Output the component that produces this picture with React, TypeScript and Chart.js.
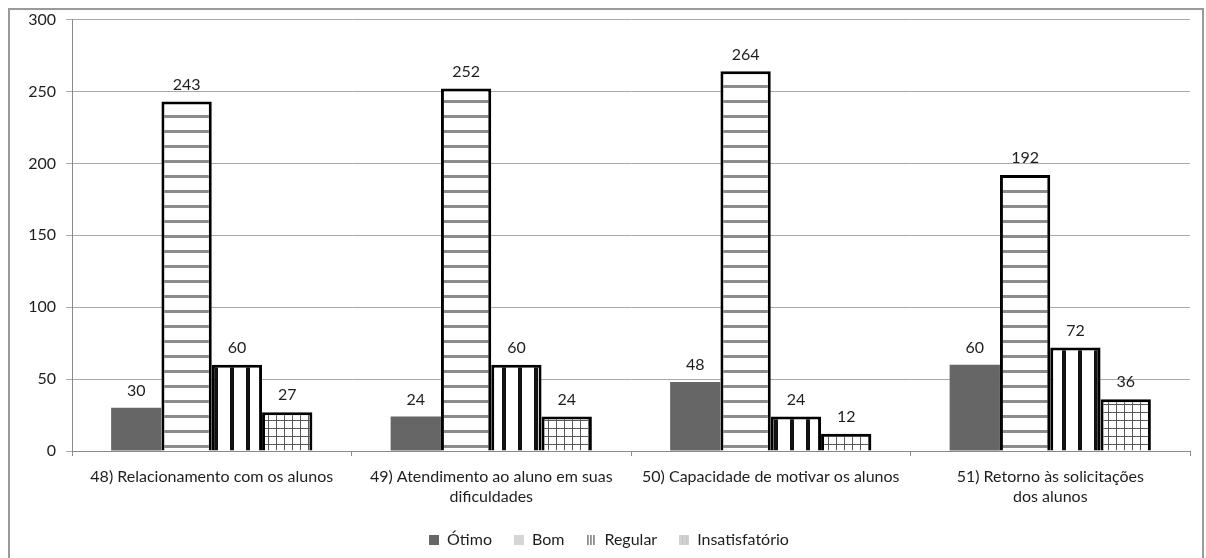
import React, { useEffect, useRef } from "react";
import { Chart, registerables } from "chart.js";

Chart.register(...registerables);

// Survey categories (multi-line where the label wraps)
const categories: (string | string[])[] = [
  "48) Relacionamento com os alunos",
  ["49) Atendimento ao aluno em suas", "dificuldades"],
  "50) Capacidade de motivar os alunos",
  ["51) Retorno às solicitações", "dos alunos"],
];

const seriesNames = ["Ótimo", "Bom", "Regular", "Insatisfatório"];
const otimo = [30, 24, 48, 60];
const bom = [243, 252, 264, 192];
const regular = [60, 60, 24, 72];
const insatisfatorio = [27, 24, 12, 36];

const yMin = 0;
const yMax = 300;
const yStep = 50;

const FONT = "Lato";
const FONT_SIZE = 16;
const TEXT = "#1e1e1e";

function tile(w: number, h: number, paint: (g: CanvasRenderingContext2D) => void) {
  const c = document.createElement("canvas");
  c.width = w;
  c.height = h;
  const g = c.getContext("2d") as CanvasRenderingContext2D;
  paint(g);
  return c;
}

// Horizontal gray stripes
const bomTile = () =>
  tile(8, 15, (g) => {
    g.fillStyle = "#ffffff";
    g.fillRect(0, 0, 8, 15);
    g.fillStyle = "#8c8c8c";
    g.fillRect(0, 10, 8, 3);
  });

// Thick vertical black stripes
const regularTile = () =>
  tile(16, 8, (g) => {
    g.fillStyle = "#ffffff";
    g.fillRect(0, 0, 16, 8);
    g.fillStyle = "#111111";
    g.fillRect(6, 0, 4, 8);
  });

// Fine grid
const insatTile = () =>
  tile(8, 8, (g) => {
    g.fillStyle = "#ffffff";
    g.fillRect(0, 0, 8, 8);
    g.fillStyle = "#5a5a5a";
    g.fillRect(4, 0, 1, 8);
    g.fillRect(0, 4, 8, 1);
  });

// Small legend swatches
const legendIcons = () => [
  tile(10, 10, (g) => {
    g.fillStyle = "#666666";
    g.fillRect(0, 0, 10, 10);
  }),
  tile(10, 10, (g) => {
    g.fillStyle = "#d6d6d6";
    g.fillRect(0, 0, 10, 10);
  }),
  tile(10, 10, (g) => {
    g.fillStyle = "#ffffff";
    g.fillRect(0, 0, 10, 10);
    g.fillStyle = "#333333";
    for (let x = 1; x < 10; x += 3) g.fillRect(x, 0, 1, 10);
  }),
  tile(10, 10, (g) => {
    g.fillStyle = "#d2d2d2";
    g.fillRect(0, 0, 10, 10);
    g.fillStyle = "#c2c2c2";
    g.fillRect(3, 0, 1, 10);
    g.fillRect(7, 0, 1, 10);
  }),
];

const framePlugin = {
  id: "frame",
  beforeDraw(chart: any) {
    const { ctx } = chart;
    ctx.save();
    ctx.fillStyle = "#ffffff";
    ctx.fillRect(0, 0, chart.width, chart.height);
    ctx.strokeStyle = "#9a9a9a";
    ctx.lineWidth = 2;
    ctx.strokeRect(9, 9, 1194, 700);
    ctx.restore();
  },
};

// Nudge the legend row a little to the right of the canvas centre
const legendShift = {
  id: "legendShift",
  afterLayout(chart: any) {
    if (chart.legend) {
      chart.legend.left += 14;
      chart.legend.right += 14;
    }
  },
};

const valueLabels = {
  id: "valueLabels",
  afterDatasetsDraw(chart: any) {
    const { ctx } = chart;
    ctx.save();
    ctx.font = `${FONT_SIZE}px ${FONT}`;
    ctx.fillStyle = TEXT;
    ctx.textAlign = "center";
    ctx.textBaseline = "middle";
    chart.data.datasets.forEach((ds: any, i: number) => {
      chart.getDatasetMeta(i).data.forEach((el: any, j: number) => {
        ctx.fillText(String(ds.data[j]), el.x, el.y - 17);
      });
    });
    ctx.restore();
  },
};

export default function App() {
  const ref = useRef<HTMLCanvasElement | null>(null);

  useEffect(() => {
    const canvas = ref.current;
    if (!canvas) return;
    const ctx = canvas.getContext("2d") as CanvasRenderingContext2D;
    const icons = legendIcons();
    const fills = [
      "#666666",
      ctx.createPattern(bomTile(), "repeat"),
      ctx.createPattern(regularTile(), "repeat"),
      ctx.createPattern(insatTile(), "repeat"),
    ];
    const values = [otimo, bom, regular, insatisfatorio];

    const chart = new Chart(canvas, {
      type: "bar",
      data: {
        labels: categories,
        datasets: seriesNames.map((name, i) => ({
          label: name,
          data: values[i],
          backgroundColor: fills[i] as any,
          borderColor: "#000000",
          borderWidth: i === 0 ? 0 : 3,
          categoryPercentage: 0.72,
          barPercentage: 1,
        })),
      },
      options: {
        responsive: false,
        animation: false,
        devicePixelRatio: 1,
        layout: { padding: { top: 19, right: 16, bottom: 0, left: 0 } },
        plugins: {
          title: { display: false },
          tooltip: { enabled: false },
          legend: {
            position: "bottom",
            labels: {
              usePointStyle: true,
              boxWidth: 10,
              boxHeight: 10,
              padding: 22,
              color: TEXT,
              font: { family: FONT, size: FONT_SIZE },
              generateLabels: (c: any) =>
                c.data.datasets.map((ds: any, i: number) => ({
                  text: ds.label,
                  pointStyle: icons[i],
                  fillStyle: "#ffffff",
                  strokeStyle: "#ffffff",
                  lineWidth: 0,
                  hidden: false,
                  datasetIndex: i,
                  fontColor: TEXT,
                })),
            },
          },
        },
        scales: {
          x: {
            offset: true,
            grid: {
              offset: true,
              drawOnChartArea: false,
              drawTicks: true,
              tickLength: 5,
              color: "#8a8a8a",
            },
            border: { display: true, color: "#8a8a8a" },
            ticks: {
              color: TEXT,
              font: { family: FONT, size: FONT_SIZE, lineHeight: 1.25 },
              padding: 11,
              maxRotation: 0,
              autoSkip: false,
            },
            afterFit: (s: any) => {
              s.height = 59;
            },
          },
          y: {
            min: yMin,
            max: yMax,
            ticks: {
              stepSize: yStep,
              color: TEXT,
              font: { family: FONT, size: FONT_SIZE },
              padding: 10,
            },
            grid: { color: "#a8a8a8", tickLength: 6, drawTicks: true },
            border: { display: true, color: "#8a8a8a" },
            afterFit: (s: any) => {
              s.width = 72;
            },
          },
        },
      },
      plugins: [framePlugin, legendShift, valueLabels],
    });

    return () => chart.destroy();
  }, []);

  return (
    <div style={{ position: "fixed", left: 0, top: 0, width: 1206, height: 558, background: "#fff" }}>
      <canvas ref={ref} width={1206} height={558} style={{ display: "block", width: 1206, height: 558 }} />
    </div>
  );
}
